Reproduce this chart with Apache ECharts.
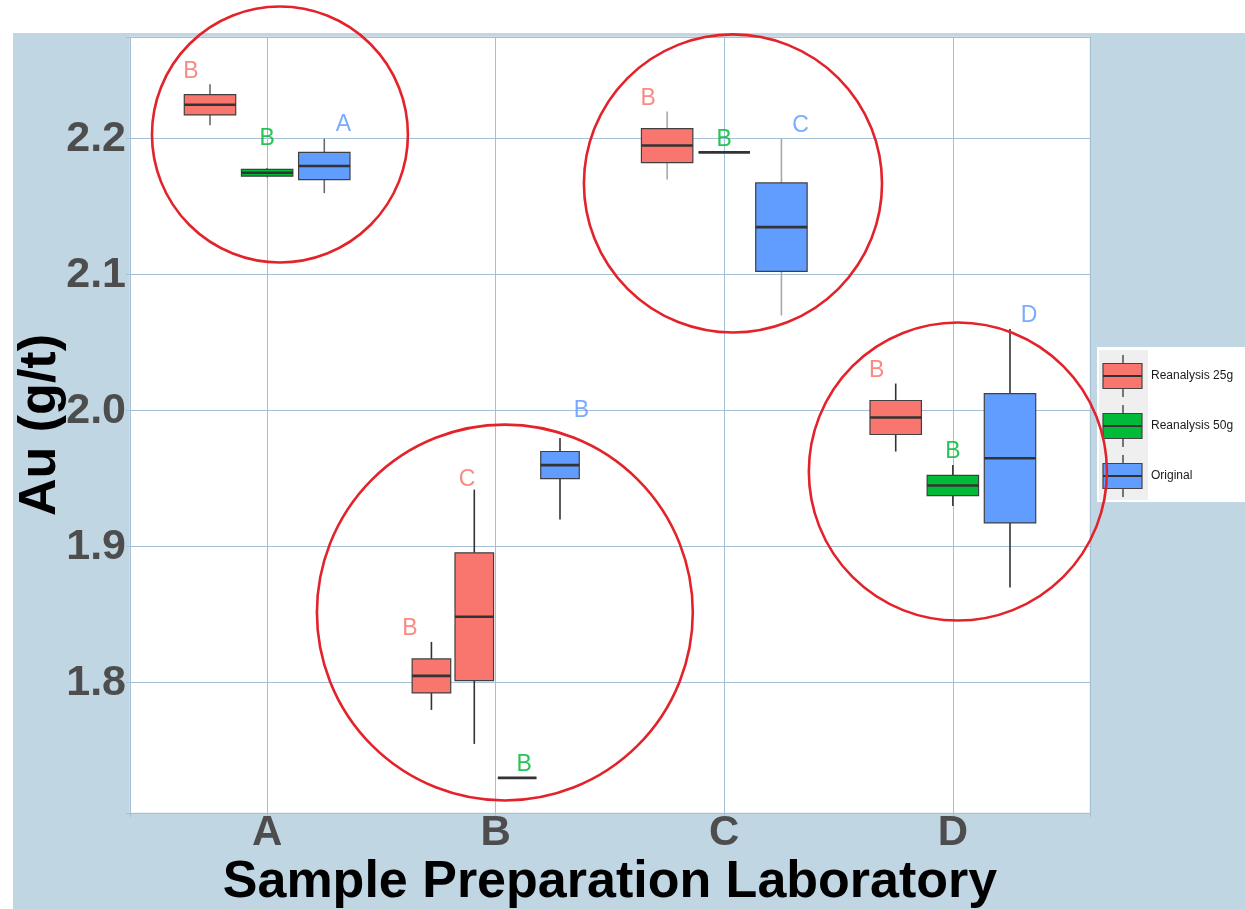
<!DOCTYPE html>
<html>
<head>
<meta charset="utf-8">
<script src="https://cdn.jsdelivr.net/npm/echarts@6/dist/echarts.min.js"></script>
<style>
html,body{margin:0;padding:0;background:#fff;}
#chart{width:1245px;height:909px;}
</style>
</head>
<body>
<div id="chart"></div>
<script>
// ---- data ----
const labs = ['A', 'B', 'C', 'D'];
const seriesNames = ['Reanalysis 25g', 'Reanalysis 50g', 'Original'];
const seriesColors = ['#f8766d', '#00ba38', '#619cff'];

const boxLab   = ['A', 'A', 'A', 'B', 'B', 'B', 'B', 'C', 'C', 'C', 'D', 'D', 'D'];
const boxGroup = [0, 1, 2, 0, 0, 1, 2, 0, 1, 2, 0, 1, 2];
const whiskerLow  = [2.210, 2.1715, 2.160, 1.780, 1.755, 1.730, 1.920, 2.170, 2.190, 2.070, 1.970, 1.930, 1.870];
const q1          = [2.2175, 2.1725, 2.170, 1.7925, 1.8015, 1.730, 1.950, 2.1825, 2.190, 2.1025, 1.9825, 1.9375, 1.9175];
const median      = [2.225, 2.175, 2.180, 1.805, 1.8485, 1.730, 1.960, 2.195, 2.190, 2.135, 1.995, 1.945, 1.965];
const q3          = [2.2325, 2.1775, 2.190, 1.8175, 1.8955, 1.730, 1.970, 2.2075, 2.190, 2.1675, 2.0075, 1.9525, 2.0125];
const whiskerHigh = [2.240, 2.1785, 2.200, 1.830, 1.942, 1.730, 1.980, 2.220, 2.190, 2.200, 2.020, 1.960, 2.060];
const letters     = ['B', 'B', 'A', 'B', 'C', 'B', 'B', 'B', 'B', 'C', 'B', 'B', 'D'];
const letterY     = [2.249, 2.200, 2.210, 1.8395, 1.949, 1.7395, 2.000, 2.2297, 2.1996, 2.2096, 2.0296, 1.970, 2.0701];

// annotation circles (data coordinates, radius in y units)
const circleX = [1.056, 2.040, 3.038, 4.022];
const circleY = [2.2031, 1.8516, 2.1671, 1.9553];
const circleR = [0.0941, 0.1382, 0.1096, 0.1096];

// ---- styles ----
const DODGE_BOX = 0.75, BOX_FRAC = 0.9, DODGE_TEXT = 1.0;
const whiskerColor = {A: '#6a6a6a', B: '#333333', C: '#a8a8a8', D: '#333333'};
const FONT = 'Liberation Sans, Arial, sans-serif';

// dodge slots per lab
const slotOf = [], nOf = [];
const counts = {};
boxLab.forEach((l, i) => { slotOf[i] = counts[l] || 0; counts[l] = (counts[l] || 0) + 1; });
boxLab.forEach((l, i) => { nOf[i] = counts[l]; });

const boxData = boxLab.map((l, i) => [labs.indexOf(l) + 1, whiskerLow[i], q1[i], median[i], q3[i], whiskerHigh[i], slotOf[i], nOf[i], letterY[i], boxGroup[i]]);
const circleData = circleX.map((x, i) => [x, circleY[i], circleR[i]]);

function renderBox(params, api) {
  const x = api.value(0);
  const slot = api.value(6), n = api.value(7);
  const grp = api.value(9);
  const unit = api.size([1, 0])[0];
  const base = api.coord([x, api.value(3)]);
  const cx = base[0] + (slot - (n - 1) / 2) * (DODGE_BOX / n) * unit;
  const tx = base[0] + (slot - (n - 1) / 2) * (DODGE_TEXT / n) * unit;
  const half = (DODGE_BOX / n) * BOX_FRAC * unit / 2;
  const yLo = api.coord([x, api.value(1)])[1];
  const yQ1 = api.coord([x, api.value(2)])[1];
  const yMd = api.coord([x, api.value(3)])[1];
  const yQ3 = api.coord([x, api.value(4)])[1];
  const yHi = api.coord([x, api.value(5)])[1];
  const yL = api.coord([x, api.value(8)])[1];
  const wc = whiskerColor[boxLab[params.dataIndex]];
  const col = seriesColors[grp];
  return {
    type: 'group',
    children: [
      {type: 'line', shape: {x1: cx, y1: yHi, x2: cx, y2: yQ3}, style: {stroke: wc, lineWidth: 1.6}},
      {type: 'line', shape: {x1: cx, y1: yQ1, x2: cx, y2: yLo}, style: {stroke: wc, lineWidth: 1.6}},
      {type: 'rect', shape: {x: cx - half, y: yQ3, width: half * 2, height: Math.max(yQ1 - yQ3, 0)},
        style: {fill: col, stroke: '#404040', lineWidth: 1.2}},
      {type: 'line', shape: {x1: cx - half, y1: yMd, x2: cx + half, y2: yMd}, style: {stroke: '#333333', lineWidth: 2.6}},
      {type: 'text', x: tx, y: yL, style: {text: letters[params.dataIndex], fill: col, opacity: 0.85,
        font: '23px ' + FONT, align: 'center', verticalAlign: 'middle'}}
    ]
  };
}

function renderCircle(params, api) {
  const c = api.coord([api.value(0), api.value(1)]);
  const r = api.size([0, api.value(2)])[1];
  return {type: 'circle', shape: {cx: c[0], cy: c[1], r: r}, style: {fill: 'none', stroke: '#e3222a', lineWidth: 2.6}};
}

// legend built from seriesNames
const legendChildren = [
  {type: 'rect', shape: {x: 0, y: 0, width: 160, height: 155}, style: {fill: '#ffffff'}},
  {type: 'rect', shape: {x: 2, y: 3, width: 49, height: 150}, style: {fill: '#efefef'}}
];
seriesNames.forEach((name, i) => {
  const cy = 29 + 50 * i;
  legendChildren.push(
    {type: 'line', shape: {x1: 26, y1: cy - 21, x2: 26, y2: cy + 21}, style: {stroke: '#333', lineWidth: 1.3}},
    {type: 'rect', shape: {x: 6, y: cy - 12.5, width: 39, height: 25}, style: {fill: seriesColors[i], stroke: '#444', lineWidth: 1.2}},
    {type: 'line', shape: {x1: 6, y1: cy, x2: 45, y2: cy}, style: {stroke: '#333', lineWidth: 2}},
    {type: 'text', x: 54, y: cy, style: {text: name, fill: '#1a1a1a', font: '12px ' + FONT, verticalAlign: 'middle'}}
  );
});

const chart = echarts.init(document.getElementById('chart'), null, {renderer: 'canvas'});
chart.setOption({
  animation: false,
  backgroundColor: '#c1d6e3',
  graphic: [
    {type: 'rect', left: 0, top: 0, z: -1, shape: {width: 1245, height: 33}, style: {fill: '#ffffff'}},
    {type: 'rect', left: 0, top: 0, z: -1, shape: {width: 13, height: 909}, style: {fill: '#ffffff'}},
    {type: 'group', left: 1097, top: 347, z: 5, children: legendChildren}
  ],
  grid: {left: 130, right: 155, top: 37, bottom: 96, containLabel: false, outerBoundsMode: 'none',
    show: true, backgroundColor: '#ffffff', borderColor: '#dfe7ee', borderWidth: 1},
  xAxis: {
    type: 'value', min: 0.4, max: 4.6,
    name: 'Sample Preparation Laboratory', nameLocation: 'middle', nameGap: 44, nameMoveOverlap: false,
    nameTextStyle: {fontFamily: FONT, fontSize: 52, fontWeight: 'bold', color: '#000', lineHeight: 52},
    axisLine: {show: false},
    axisTick: {show: true, length: 4, lineStyle: {color: '#a5c0d4'}},
    splitLine: {show: true, lineStyle: {color: '#a5c0d4', width: 1}},
    axisLabel: {
      margin: 2, fontFamily: FONT, fontSize: 42, fontWeight: 'bold', color: '#4d4d4d', lineHeight: 36,
      formatter: v => (Math.abs(v - Math.round(v)) < 1e-9 && v >= 1 && v <= 4) ? labs[Math.round(v) - 1] : ''
    }
  },
  yAxis: {
    type: 'value', min: 1.7042, max: 2.2748,
    name: 'Au (g/t)', nameLocation: 'middle', nameGap: 63, nameRotate: 90, nameMoveOverlap: false,
    nameTextStyle: {fontFamily: FONT, fontSize: 52, fontWeight: 'bold', color: '#000', lineHeight: 52},
    axisLine: {show: false},
    axisTick: {show: true, length: 4, lineStyle: {color: '#a5c0d4'}},
    splitLine: {show: true, lineStyle: {color: '#a5c0d4', width: 1}},
    axisLabel: {
      margin: 4, fontFamily: FONT, fontSize: 43, fontWeight: 'bold', color: '#4d4d4d',
      formatter: v => (Math.abs(v * 10 - Math.round(v * 10)) < 1e-6) ? v.toFixed(1) : ''
    }
  },
  series: [
    {type: 'custom', name: 'boxes', renderItem: renderBox, data: boxData, z: 3,
      encode: {x: 0, y: [1, 2, 3, 4, 5, 8]}, clip: false},
    {type: 'custom', name: 'circles', renderItem: renderCircle, data: circleData, z: 10,
      encode: {x: 0, y: 1}, clip: false, silent: true}
  ]
});
</script>
</body>
</html>
